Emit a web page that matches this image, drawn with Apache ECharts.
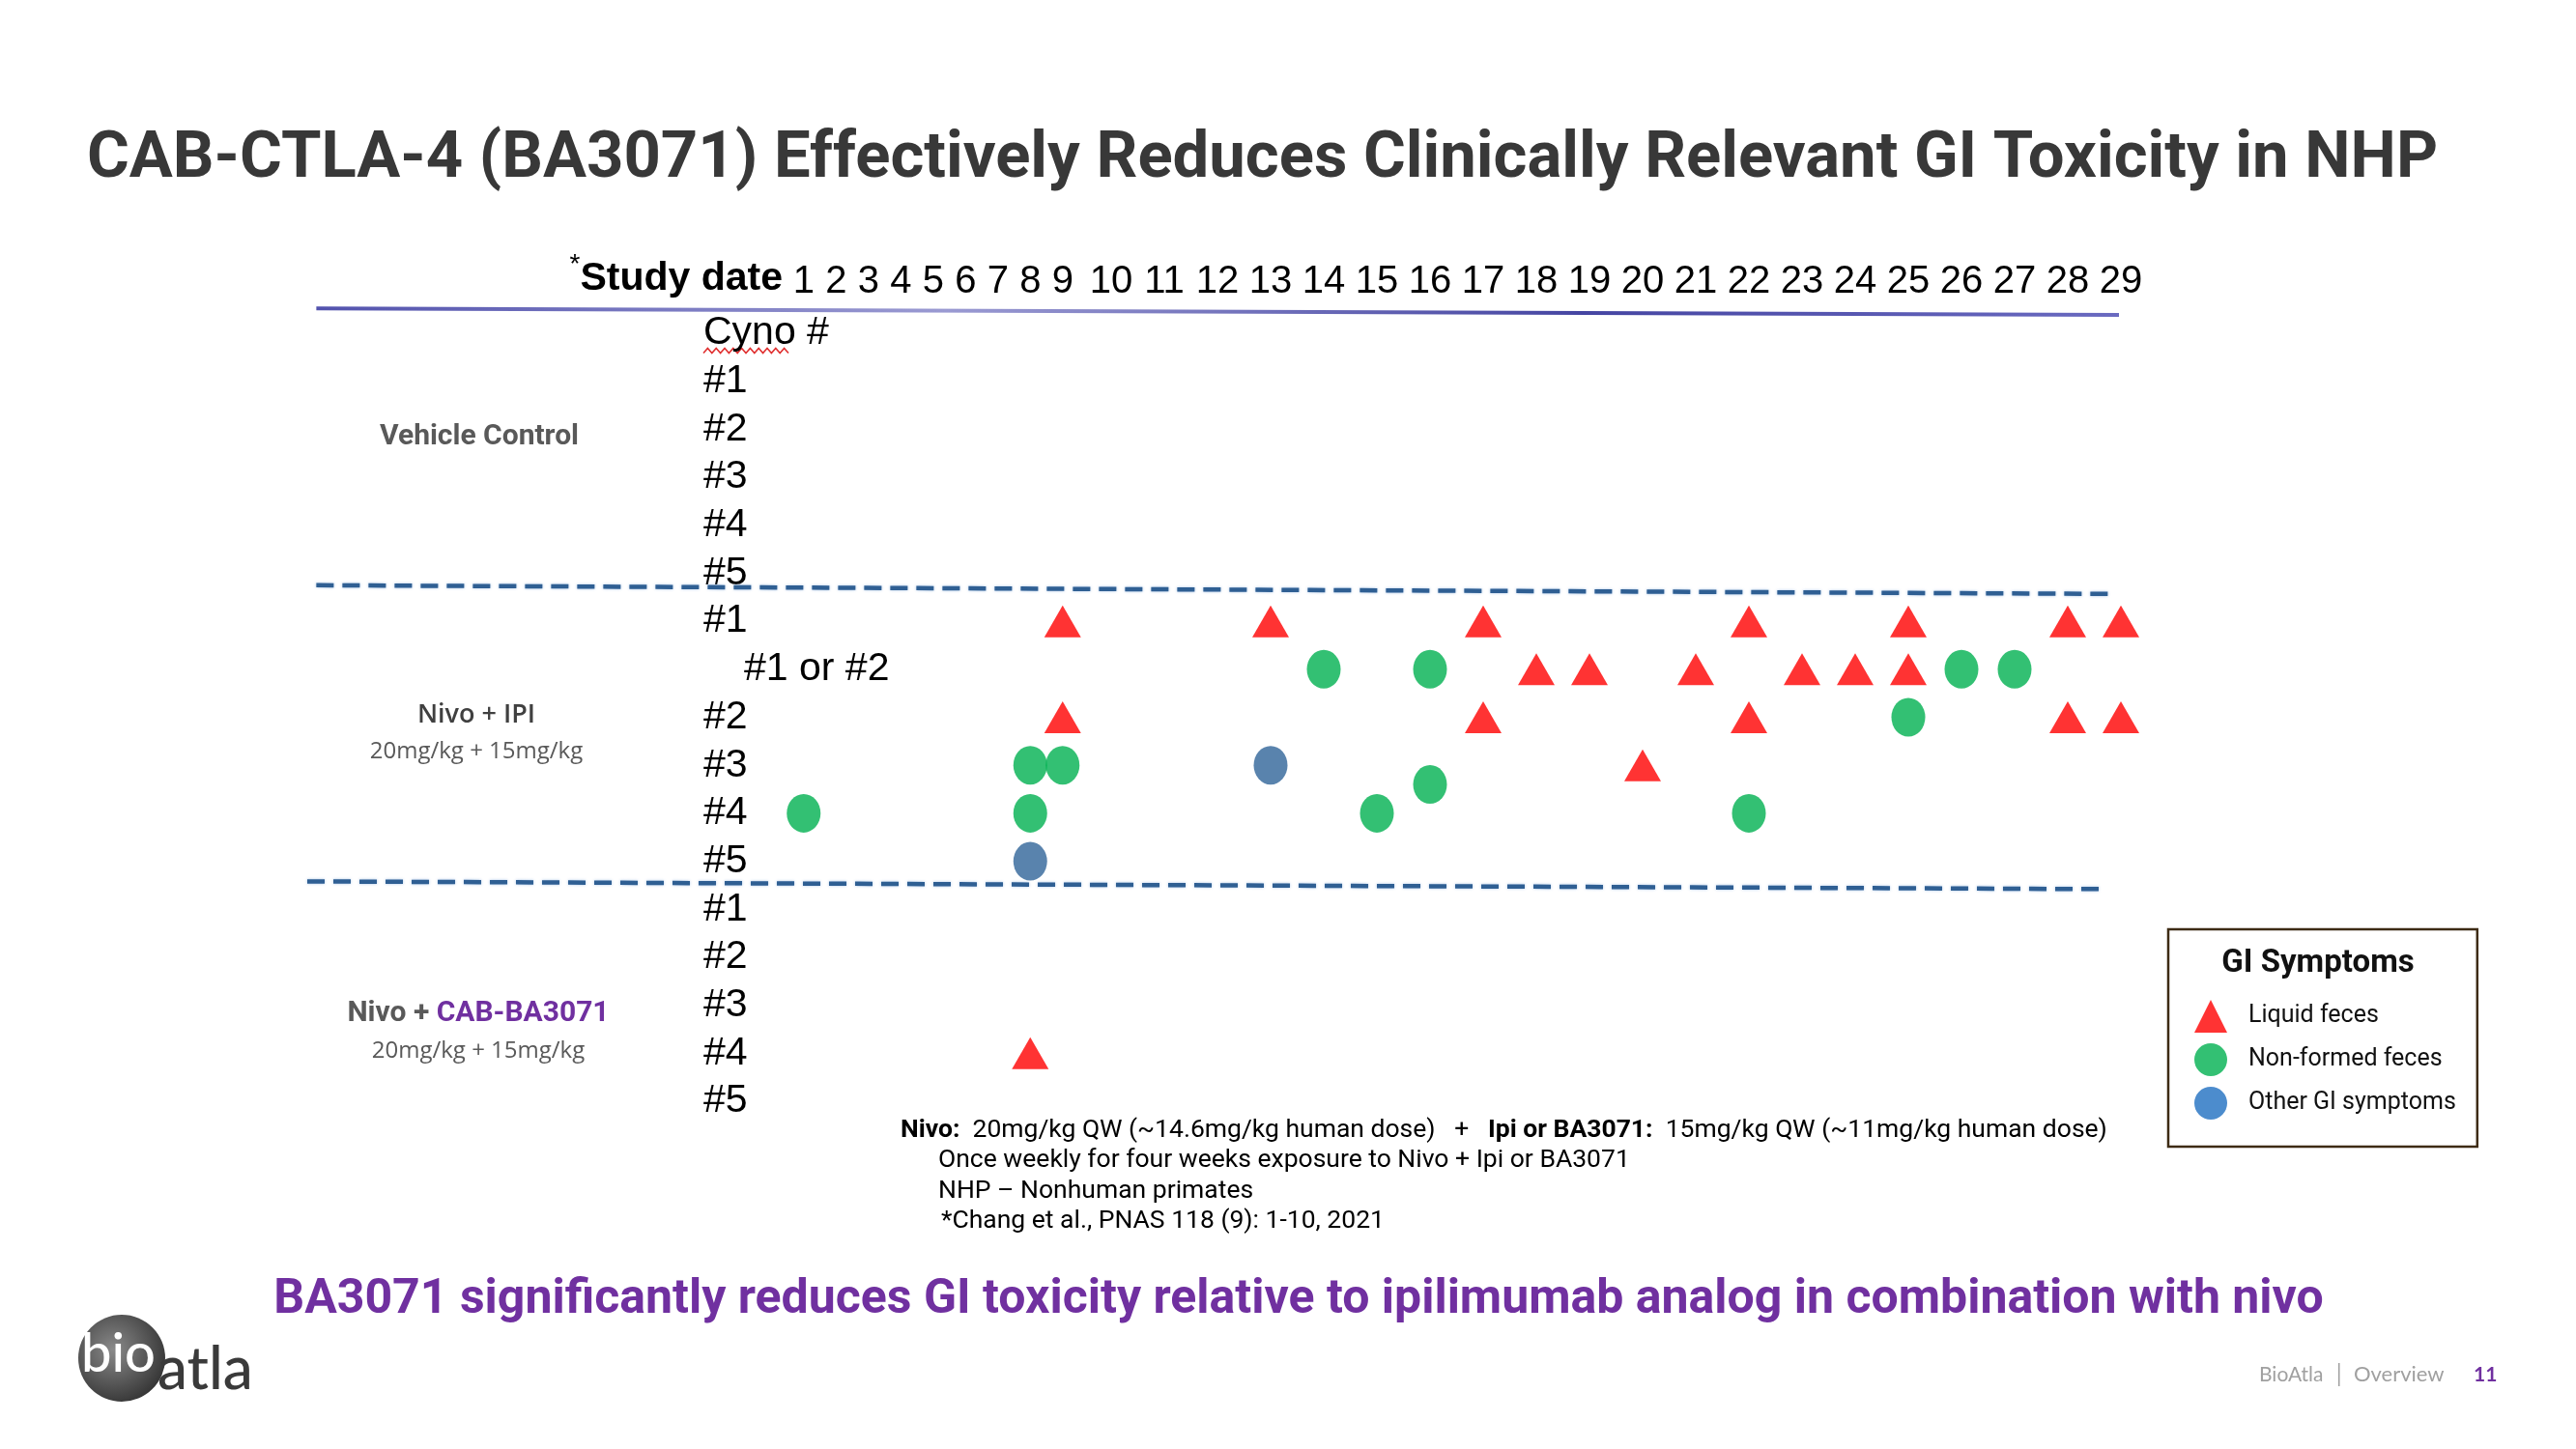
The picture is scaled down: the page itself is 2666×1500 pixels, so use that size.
<!DOCTYPE html>
<html><head><meta charset="utf-8">
<script src="https://cdn.jsdelivr.net/npm/echarts@6/dist/echarts.min.js"></script>
<style>html,body{margin:0;padding:0;background:#fff}#c{width:2666px;height:1500px}</style>
</head><body><div id="c"></div>
<script>
// ---------- data ----------
const studyDays = [1,2,3,4,5,6,7,8,9,10,11,12,13,14,15,16,17,18,19,20,21,22,23,24,25,26,27,28,29];
const rowLabels = ['Cyno #','#1','#2','#3','#4','#5','#1','#1 or #2','#2','#3','#4','#5','#1','#2','#3','#4','#5'];
const groupLabels = ['Vehicle Control','Nivo + IPI','Nivo + CAB-BA3071'];
const doseLabel = '20mg/kg + 15mg/kg';
const legendNames = ['Liquid feces','Non-formed feces','Other GI symptoms'];
// [study day, row index]
const liquidFeces = [[9,6],[13,6],[17,6],[22,6],[25,6],[28,6],[29,6],
  [18,7],[19,7],[21,7],[23,7],[24,7],[25,7],
  [9,8],[17,8],[22,8],[28,8],[29,8],
  [20,9],
  [8,15]];
const nonFormedFeces = [[14,7],[16,7],[26,7],[27,7],[25,8],[8,9],[9,9],[16,9.4],[1,10],[8,10],[15,10],[22,10]];
const otherGISymptoms = [[13,9],[8,11]];

// ---------- chart ----------
const chart = echarts.init(document.getElementById('c'));
const NARROW = "'Liberation Sans Narrow','Arial Narrow','Liberation Sans',Arial,sans-serif";
const ROBOTO = "Roboto,'Noto Sans',sans-serif";
const daysA = studyDays.filter(d => d <= 9).map(String);
const daysB = studyDays.filter(d => d >= 10).map(String);
function part(data, inA) {
  return data.filter(p => inA ? p[0] <= 9 : p[0] >= 10).map(p => [String(p[0]), p[1]]);
}
const ellipse = 'path://M0,-1A1,1,0,1,1,0,1A1,1,0,1,1,0,-1Z';
const kinds = [
  {name: legendNames[0], data: liquidFeces, symbol: 'triangle', size: [38, 33], color: '#ff0000'},
  {name: legendNames[1], data: nonFormedFeces, symbol: ellipse, size: [35, 40], color: '#00b050'},
  {name: legendNames[2], data: otherGISymptoms, symbol: ellipse, size: [35, 40], color: '#2f6499'}
];
const series = [];
kinds.forEach(k => {
  [true, false].forEach(inA => {
    series.push({
      type: 'scatter', name: k.name, xAxisIndex: inA ? 0 : 1, yAxisIndex: inA ? 0 : 1,
      symbol: k.symbol, symbolSize: k.size, itemStyle: {color: k.color},
      data: part(k.data, inA), silent: true, z: 5
    });
  });
});
const dashStyle = {color: '#2f5f93', width: 4.5, type: [18, 9], shadowColor: 'rgba(130,170,220,0.7)', shadowBlur: 3};
series.push({
  type: 'line', xAxisIndex: 2, yAxisIndex: 2, data: [], silent: true,
  markLine: {
    symbol: ['none', 'none'], silent: true, animation: false, label: {show: false},
    data: [
      [{coord: [0.5, -0.52], lineStyle: {width: 4, type: 'solid', color: new echarts.graphic.LinearGradient(0, 0, 1, 0, [
        {offset: 0, color: '#5252ad'}, {offset: 0.35, color: '#9a9ad2'}, {offset: 0.7, color: '#4545a2'}, {offset: 1, color: '#6a6ac0'}])}},
       {coord: [100, -0.38]}],
      [{coord: [0.5, 5.25], lineStyle: dashStyle}, {coord: [99.5, 5.43]}],
      [{coord: [0, 11.42], lineStyle: dashStyle}, {coord: [99, 11.58]}]
    ]
  }
});

// red spell-check squiggle under "Cyno"
const squiggle = [];
for (let i = 0; i <= 20; i++) squiggle.push([728 + i * 4.4, 363 + (i % 2 ? -2.5 : 2.5)]);

const gray = '#595959';
const option = {
  animation: false,
  backgroundColor: '#ffffff',
  grid: [
    {left: 815, width: 301.5, top: 345, height: 795},
    {left: 1122.5, width: 1100, top: 345, height: 795},
    {left: 318, width: 1875, top: 295.31, height: 844.69}
  ],
  xAxis: [
    {gridIndex: 0, type: 'category', data: daysA, position: 'top', axisLine: {show: false}, axisTick: {show: false},
     axisLabel: {interval: 0, margin: 33, fontSize: 40, color: '#000', fontFamily: NARROW}},
    {gridIndex: 1, type: 'category', data: daysB, position: 'top', axisLine: {show: false}, axisTick: {show: false},
     axisLabel: {interval: 0, margin: 33, fontSize: 40, color: '#000', fontFamily: NARROW}},
    {gridIndex: 2, type: 'value', min: 0, max: 100, show: false}
  ],
  yAxis: [
    {gridIndex: 0, type: 'value', min: 0, max: 16, interval: 1, inverse: true,
     axisLine: {show: false}, axisTick: {show: false}, splitLine: {show: false},
     axisLabel: {align: 'left', margin: 87, fontSize: 41, color: '#000', fontFamily: NARROW,
       formatter: v => v === 7 ? '{ind|' + rowLabels[v] + '}' : (rowLabels[v] || ''),
       rich: {ind: {padding: [0, 0, 0, 42], fontSize: 41, color: '#000', fontFamily: NARROW}}}},
    {gridIndex: 1, type: 'value', min: 0, max: 16, inverse: true, show: false},
    {gridIndex: 2, type: 'value', min: -1, max: 16, inverse: true, show: false}
  ],
  legend: {
    orient: 'vertical', left: 2244, top: 962, padding: [73, 22, 28, 27], itemGap: 11,
    itemWidth: 34, itemHeight: 34, borderColor: '#3d2b14', borderWidth: 2.5, backgroundColor: '#fff',
    selectedMode: false,
    textStyle: {fontSize: 25, fontFamily: ROBOTO, color: '#111', padding: [0, 0, 0, 17]},
    data: [
      {name: legendNames[0], icon: 'triangle', itemStyle: {color: '#ff0000'}},
      {name: legendNames[1], icon: 'circle', itemStyle: {color: '#00b050'}},
      {name: legendNames[2], icon: 'circle', itemStyle: {color: '#1f6fc0'}}
    ]
  },
  graphic: [
    {type: 'text', x: 90, y: 166, style: {text: 'CAB-CTLA-4 (BA3071) Effectively Reduces Clinically Relevant GI Toxicity in NHP',
      font: 'bold 67px ' + ROBOTO, fill: '#383838', verticalAlign: 'middle'}},
    {type: 'text', x: 810, y: 289, style: {text: '{ast|*}{sd|Study date}', textAlign: 'right', verticalAlign: 'middle',
      rich: {ast: {fontSize: 28, fontFamily: NARROW, fill: '#000', verticalAlign: 'top', padding: [0, 0, 30, 0]},
             sd: {fontSize: 41, fontWeight: 'bold', fontFamily: NARROW, fill: '#000'}}}},
    {type: 'polyline', shape: {points: squiggle}, style: {stroke: '#e03030', lineWidth: 1.6, fill: null}},
    {type: 'text', x: 496, y: 452, style: {text: groupLabels[0], font: 'bold 30px ' + ROBOTO, fill: gray, textAlign: 'center', verticalAlign: 'middle'}},
    {type: 'text', x: 493, y: 740, style: {text: groupLabels[1], font: '600 27px "Open Sans"', fill: '#404040', textAlign: 'center', verticalAlign: 'middle'}},
    {type: 'text', x: 493, y: 778, style: {text: doseLabel, font: '24px "Open Sans"', fill: gray, textAlign: 'center', verticalAlign: 'middle'}},
    {type: 'text', x: 495, y: 1049, style: {text: '{g|Nivo + }{p|CAB-BA3071}', textAlign: 'center', verticalAlign: 'middle',
      rich: {g: {font: 'bold 30px ' + ROBOTO, fill: gray}, p: {font: 'bold 30px ' + ROBOTO, fill: '#7030a0'}}}},
    {type: 'text', x: 495, y: 1088, style: {text: doseLabel, font: '24px "Open Sans"', fill: gray, textAlign: 'center', verticalAlign: 'middle'}},
    {type: 'text', x: 932, y: 1170, style: {text: '{b|Nivo:}  20mg/kg QW (~14.6mg/kg human dose)   +   {b|Ipi or BA3071:}  15mg/kg QW (~11mg/kg human dose)',
      font: '26.5px ' + ROBOTO, fill: '#000', verticalAlign: 'middle', rich: {b: {font: 'bold 26.5px ' + ROBOTO, fill: '#000'}}}},
    {type: 'text', x: 971, y: 1201, style: {text: 'Once weekly for four weeks exposure to Nivo + Ipi or BA3071', font: '26.5px ' + ROBOTO, fill: '#000', verticalAlign: 'middle'}},
    {type: 'text', x: 971, y: 1233, style: {text: 'NHP \u2013 Nonhuman primates', font: '26.5px ' + ROBOTO, fill: '#000', verticalAlign: 'middle'}},
    {type: 'text', x: 974, y: 1264, style: {text: '*Chang et al., PNAS 118 (9): 1-10, 2021', font: '26.5px ' + ROBOTO, fill: '#000', verticalAlign: 'middle'}},
    {type: 'text', x: 2399, y: 998, z: 100, style: {text: 'GI Symptoms', font: 'bold 33px ' + ROBOTO, fill: '#111', textAlign: 'center', verticalAlign: 'middle'}},
    {type: 'text', x: 1344, y: 1346, style: {text: 'BA3071 significantly reduces GI toxicity relative to ipilimumab analog in combination with nivo',
      font: 'bold 50px ' + ROBOTO, fill: '#7030a0', textAlign: 'center', verticalAlign: 'middle'}},
    {type: 'circle', shape: {cx: 126, cy: 1406, r: 45}, style: {fill: new echarts.graphic.RadialGradient(0.4, 0.4, 0.7, [{offset: 0, color: '#8a8a8a'}, {offset: 1, color: '#2e2e2e'}])}},
    {type: 'text', x: 84, y: 1402, style: {text: 'bio', font: '500 56px Lato', fill: '#fff', verticalAlign: 'middle'}},
    {type: 'text', x: 163, y: 1418, style: {text: 'atla', font: '500 62px Lato', fill: '#3a3a3a', verticalAlign: 'middle'}},
    {type: 'text', x: 2338, y: 1423, style: {text: 'BioAtla', font: '21px Lato', fill: '#a0a0a0', verticalAlign: 'middle'}},
    {type: 'rect', shape: {x: 2420, y: 1411, width: 1.5, height: 24}, style: {fill: '#a0a0a0'}},
    {type: 'text', x: 2436, y: 1423, style: {text: 'Overview', font: '22px Lato', fill: '#a0a0a0', verticalAlign: 'middle'}},
    {type: 'text', x: 2560, y: 1423, style: {text: '11', font: 'bold 21px Lato', fill: '#7030a0', verticalAlign: 'middle'}}
  ],
  series: series
};
chart.setOption(option);
</script></body></html>
